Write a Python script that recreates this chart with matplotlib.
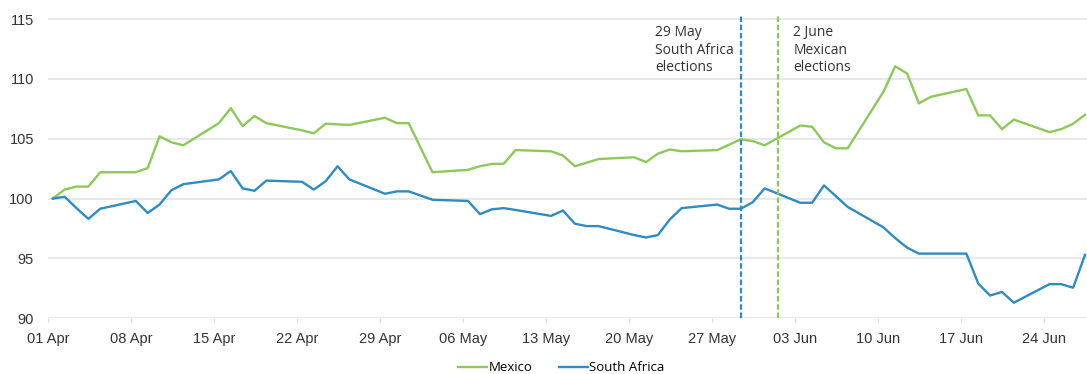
"""Mexico vs South Africa index, Apr-Jun 2024, with election markers"""
import pandas as pd
import matplotlib.pyplot as plt

# business days 01 Apr - 27 Jun 2024
dates = pd.bdate_range("2024-04-01", "2024-06-27")

mexico = [
    100.0, 100.75, 101.0, 101.0, 102.2,
    102.2, 102.55, 105.2, 104.7, 104.45,
    106.3, 107.55, 106.05, 106.9, 106.3,
    105.7, 105.45, 106.25, 106.2, 106.15,
    106.75, 106.3, 106.3, 104.25, 102.2,
    102.4, 102.7, 102.9, 102.9, 104.05,
    103.95, 103.6, 102.7, 103.0, 103.3,
    103.45, 103.05, 103.75, 104.1, 103.95,
    104.05, 104.5, 104.95, 104.8, 104.45,
    106.1, 106.0, 104.7, 104.2, 104.2,
    108.9, 111.05, 110.45, 107.95, 108.5,
    109.15, 106.95, 106.95, 105.8, 106.6,
    105.55, 105.8, 106.25, 107.0,
]

south_africa = [
    100.0, 100.15, 99.2, 98.3, 99.15,
    99.8, 98.8, 99.5, 100.7, 101.2,
    101.6, 102.3, 100.85, 100.65, 101.5,
    101.4, 100.75, 101.45, 102.7, 101.6,
    100.4, 100.6, 100.6, 100.25, 99.9,
    99.8, 98.7, 99.1, 99.2, 99.05,
    98.55, 99.0, 97.9, 97.7, 97.7,
    96.95, 96.75, 96.95, 98.25, 99.2,
    99.5, 99.15, 99.15, 99.7, 100.85,
    99.65, 99.65, 101.1, 100.2, 99.3,
    97.6, 96.7, 95.9, 95.4, 95.4,
    95.4, 92.9, 91.9, 92.2, 91.3,
    92.85, 92.85, 92.55, 95.3,
]

tick_dates = pd.date_range("2024-04-01", "2024-06-24", freq="7D")
y_ticks = [90, 95, 100, 105, 110, 115]

sa_election = pd.Timestamp("2024-05-29")
mx_election = pd.Timestamp("2024-06-01 02:00")

GREEN = "#8cc95a"
BLUE = "#2f8cc0"

fig = plt.figure(figsize=(10.87, 3.74), dpi=100)
ax = fig.add_axes([0.044, 0.149, 0.956, 0.813])

for y in y_ticks:
    ax.axhline(y, color="#e8e8e8", lw=1.4, zorder=0)

ax.plot(dates, mexico, color=GREEN, lw=1.7, label="Mexico")
ax.plot(dates, south_africa, color=BLUE, lw=1.7, label="South Africa")

ax.axvline(sa_election, color=BLUE, lw=1.6, ls=(0, (2.5, 1.2)))
ax.axvline(mx_election, color=GREEN, lw=1.6, ls=(0, (2.5, 1.2)))

ax.text(pd.Timestamp("2024-05-21 18:00"), 114.5, "29 May\nSouth Africa\nelections",
        family="Open Sans", fontsize=10, color="#333333", va="top", ha="left",
        linespacing=1.25)
ax.text(pd.Timestamp("2024-06-02 10:00"), 114.5, "2 June\nMexican\nelections",
        family="Open Sans", fontsize=10, color="#333333", va="top", ha="left",
        linespacing=1.25)

ax.set_ylim(90, 115.4)
ax.set_xlim(pd.Timestamp("2024-03-31 15:00"), pd.Timestamp("2024-06-27 04:00"))

ax.set_yticks(y_ticks)
# tick marks sit a little left of the data points in the original
ax.set_xticks(tick_dates - pd.Timedelta(hours=10))
ax.set_xticklabels([d.strftime("%d %b") for d in tick_dates])
ax.tick_params(axis="y", length=0, pad=10, labelsize=10.5, labelcolor="#333333")
ax.tick_params(axis="x", length=3, color="#dddddd", pad=7, labelsize=10.5,
               labelcolor="#333333")
for lbl in ax.get_xticklabels() + ax.get_yticklabels():
    lbl.set_family("Liberation Sans")

for s in ax.spines.values():
    s.set_visible(False)

ax.legend(loc="upper center", bbox_to_anchor=(0.494, -0.102), ncol=2, frameon=False,
          handlelength=2.2, handletextpad=0.1, columnspacing=2.0,
          prop={"family": "Open Sans", "size": 9.5})

plt.savefig("out.png", dpi=100)
